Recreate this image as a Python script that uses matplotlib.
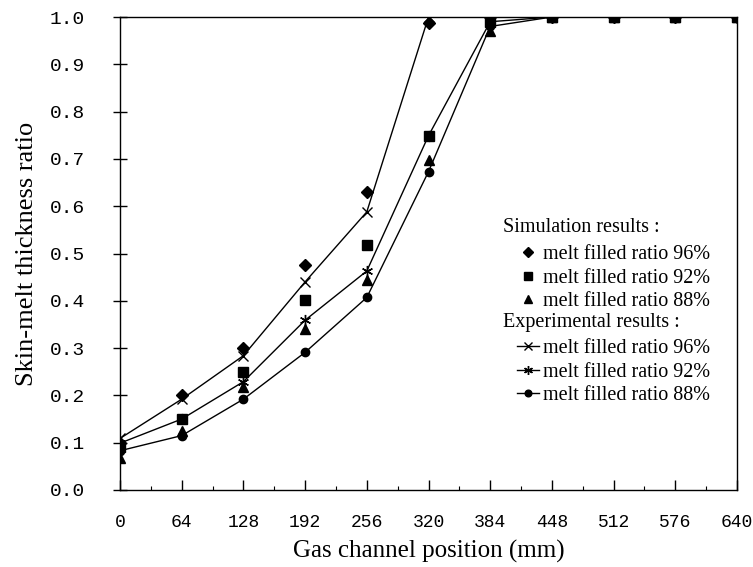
import matplotlib.pyplot as plt
from matplotlib.ticker import MultipleLocator

# Gas channel positions (mm)
positions = [0, 64, 128, 192, 256, 320, 384, 448, 512, 576, 640]

# Simulation results (markers only)
sim_96 = [0.100, 0.200, 0.300, 0.476, 0.630, 0.987, 1.000, 1.0, 1.0, 1.0, 1.0]
sim_92 = [0.090, 0.150, 0.250, 0.402, 0.518, 0.749, 0.990, 1.0, 1.0, 1.0, 1.0]
sim_88 = [0.067, 0.125, 0.217, 0.340, 0.445, 0.698, 0.970, 1.0, 1.0, 1.0, 1.0]

# Experimental results (lines with markers)
exp_96 = [0.109, 0.192, 0.284, 0.440, 0.588, 1.000, 1.000, 1.0, 1.0, 1.0, 1.0]
exp_92 = [0.099, 0.150, 0.229, 0.359, 0.463, 0.749, 0.990, 1.0, 1.0, 1.0, 1.0]
exp_88 = [0.083, 0.115, 0.192, 0.291, 0.407, 0.673, 0.980, 1.0, 1.0, 1.0, 1.0]

labels = ['melt filled ratio 96%', 'melt filled ratio 92%', 'melt filled ratio 88%']

serif = 'Liberation Serif'
mono = 'Liberation Mono'
W, H = 753, 567

fig = plt.figure(figsize=(W / 100, H / 100), dpi=100)
ax = fig.add_axes([120 / W, 77 / H, 617 / W, 473 / H])

# experimental curves
e1, = ax.plot(positions, exp_96, color='black', lw=1, marker='x', ms=7, mew=1)
e2, = ax.plot(positions, exp_92, color='black', lw=1, marker=(6, 2, 0), ms=8, mew=1)
e3, = ax.plot(positions, exp_88, color='black', lw=1, marker='o', ms=6)

# simulation points
s1, = ax.plot(positions, sim_96, ls='none', color='black', marker='D', ms=6)
s2, = ax.plot(positions, sim_92, ls='none', color='black', marker='s', ms=7)
s3, = ax.plot(positions, sim_88, ls='none', color='black', marker='^', ms=7)

ax.set_xlim(0, 640)
ax.set_ylim(0, 1.0)
ax.set_xticks(positions)
ax.set_xticklabels([str(p) for p in positions], family=mono, fontsize=13)
ax.xaxis.set_minor_locator(MultipleLocator(32))
yt = [i / 10 for i in range(11)]
ax.set_yticks(yt)
ax.set_yticklabels([f'{v:.1f}' for v in yt], family=mono, fontsize=14)

ax.tick_params(axis='x', which='major', direction='in', length=7, width=1, pad=17)
ax.tick_params(axis='x', which='minor', direction='in', length=3, width=0.8)
ax.tick_params(axis='y', which='major', direction='inout', length=10, width=1, pad=20)

ax.set_xlabel('Gas channel position (mm)', family=serif, fontsize=18, labelpad=7)
ax.set_ylabel('Skin-melt thickness ratio', family=serif, fontsize=19, labelpad=9)

for sp in ax.spines.values():
    sp.set_linewidth(1)

# legend: headers as text, entries as two legends
fs = 14.5
leg_font = {'family': serif, 'size': fs}
fig.text(503 / W, 1 - 227 / H, 'Simulation results :', family=serif, size=fs, va='center')
fig.text(503 / W, 1 - 322 / H, 'Experimental results :', family=serif, size=fs, va='center')

leg_kw = dict(loc='upper left', bbox_transform=fig.transFigure, frameon=False,
              prop=leg_font, handlelength=1.1, handletextpad=0.2, labelspacing=0.22,
              borderpad=0, borderaxespad=0, markerscale=0.8)
leg1 = ax.legend([s1, s2, s3], labels, bbox_to_anchor=(517 / W, 1 - 245 / H), **leg_kw)
ax.add_artist(leg1)
ax.legend([e1, e2, e3], labels, bbox_to_anchor=(517 / W, 1 - 339 / H), **leg_kw)

fig.savefig('out.png', dpi=100)
